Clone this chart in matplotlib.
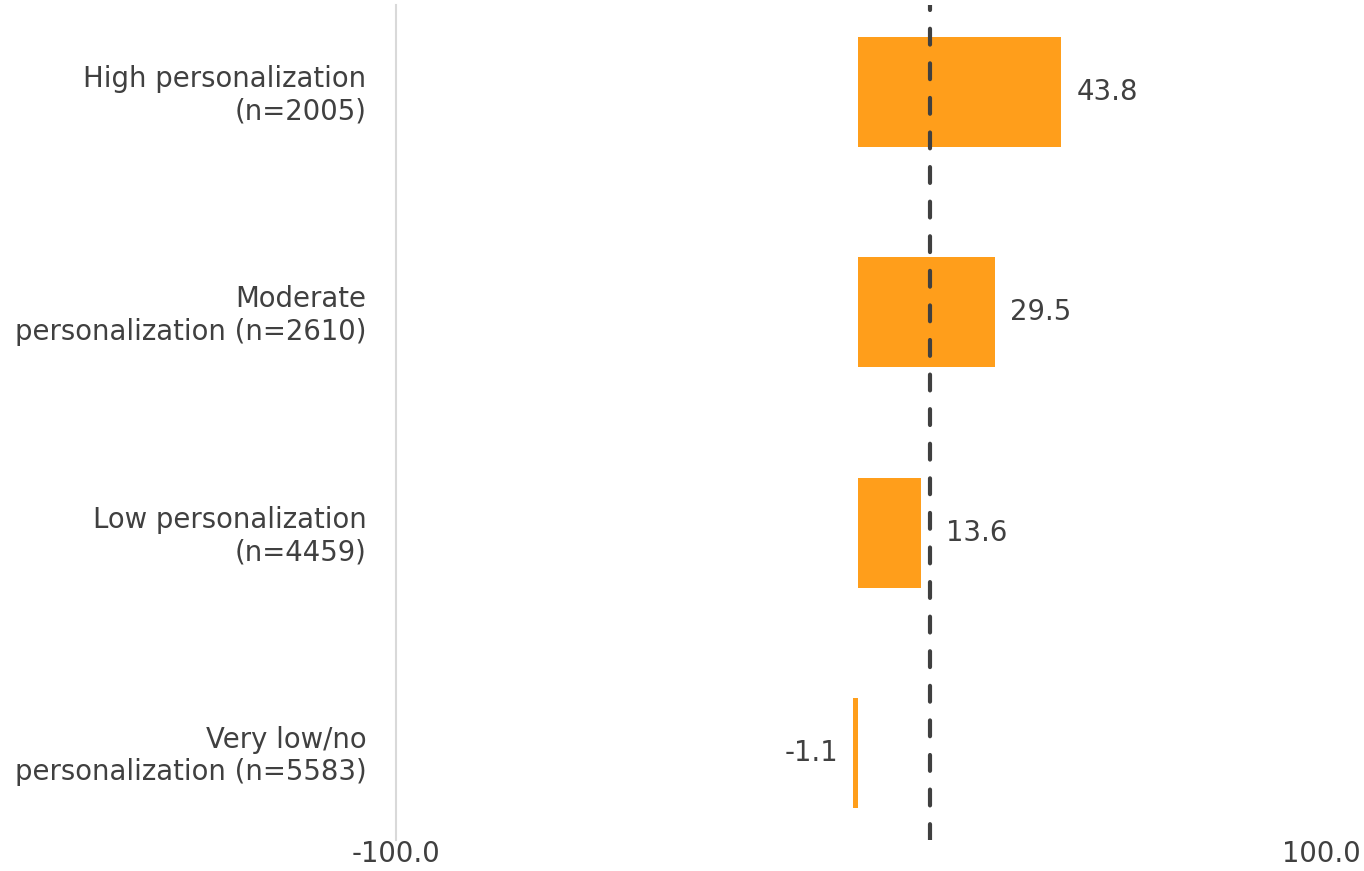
import matplotlib
matplotlib.use("Agg")
import matplotlib.pyplot as plt
import matplotlib.transforms as mtransforms

plt.rcParams["font.family"] = ["DejaVu Sans"]

categories = ["High personalization\n(n=2005)",
              "Moderate\npersonalization (n=2610)",
              "Low personalization\n(n=4459)",
              "Very low/no\npersonalization (n=5583)"]
values = [43.8, 29.5, 13.6, -1.1]
reference_value = 15.6
xtick_values = [-100, 100]
xtick_labels = ["-100.0", "100.0"]

text_color = "#404040"
bar_color = "#FF9E1B"

fig = plt.figure(figsize=(13.64, 8.71), dpi=100)
ax = fig.add_axes([395.5 / 1364, 1 - 840 / 871, (1321.1 - 395.5) / 1364, 835 / 871])

ypos = list(range(len(categories) - 1, -1, -1))
ax.barh(ypos, values, height=0.5, color=bar_color, zorder=2)

for y, v in zip(ypos, values):
    if v >= 0:
        anchor = max(v, reference_value)
        ax.annotate(f"{v:.1f}", (anchor, y), xytext=(11, 0), textcoords="offset points",
                    ha="left", va="center", fontsize=19.8, color=text_color)
    else:
        ax.annotate(f"{v:.1f}", (v, y), xytext=(-11, 0), textcoords="offset points",
                    ha="right", va="center", fontsize=19.8, color=text_color)

ax.axvline(reference_value, color=text_color, lw=3, linestyle=(0, (3.8, 4.5)),
           dash_capstyle="round", zorder=3)

ax.set_xlim(-100, 100)
ax.set_ylim(-0.395, 3.395)
ax.set_yticks(ypos)
ax.set_yticklabels(categories, fontsize=19.8, color=text_color)
ax.set_xticks(xtick_values)
ax.set_xticklabels(xtick_labels, fontsize=19.8, color=text_color)
ax.tick_params(axis="y", length=0, pad=21)
ax.tick_params(axis="x", length=0, pad=0)

shift = mtransforms.ScaledTranslation(0, 2 / 100, fig.dpi_scale_trans)
for lab in ax.get_yticklabels():
    lab.set_transform(lab.get_transform() + shift)

for s in ["top", "right", "bottom"]:
    ax.spines[s].set_visible(False)
ax.spines["left"].set_color("#D9D9D9")
ax.spines["left"].set_linewidth(1.5)

fig.savefig("out.png", dpi=100)
